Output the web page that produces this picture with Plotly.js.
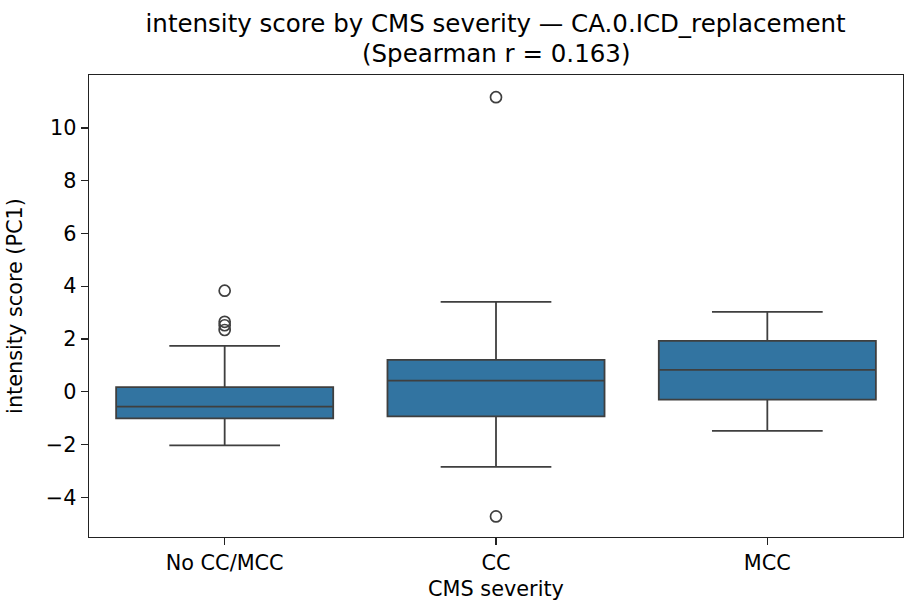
<!DOCTYPE html>
<html>
<head>
<meta charset="utf-8">
<script src="https://cdn.plot.ly/plotly-3.0.1.min.js"></script>
<style>html,body{margin:0;padding:0;background:#fff;}#chart{width:917px;height:615px;}</style>
</head>
<body>
<div id="chart"></div>
<script>
// Categories and box statistics
const categories = ["No CC/MCC", "CC", "MCC"];
const q1Values = [-1.01, -0.93, -0.30];
const medianValues = [-0.56, 0.42, 0.83];
const q3Values = [0.18, 1.21, 1.93];
const lowerWhisker = [-2.03, -2.84, -1.48];
const upperWhisker = [1.74, 3.41, 3.03];
// Outliers
const outlierCategory = ["No CC/MCC", "No CC/MCC", "No CC/MCC", "No CC/MCC", "CC", "CC"];
const outlierValues = [3.83, 2.65, 2.52, 2.34, 11.16, -4.72];
const yTicks = [-4, -2, 0, 2, 4, 6, 8, 10];
const titleLine1 = "intensity score by CMS severity — CA.0.ICD_replacement";
const titleLine2 = "(Spearman r = 0.163)";

const font = "DejaVu Sans, sans-serif";
const lineColor = "#3f3f3f";

const traces = [
  {
    type: "box",
    x: categories,
    q1: q1Values,
    median: medianValues,
    q3: q3Values,
    lowerfence: lowerWhisker,
    upperfence: upperWhisker,
    width: 0.8,
    whiskerwidth: 0.51,
    fillcolor: "#3274a1",
    line: {color: lineColor, width: 1.8},
    boxpoints: false,
    hoverinfo: "skip",
    showlegend: false
  },
  {
    type: "scatter",
    mode: "markers",
    x: outlierCategory,
    y: outlierValues,
    marker: {symbol: "circle-open", size: 11, color: lineColor, line: {color: lineColor, width: 1.7}},
    hoverinfo: "skip",
    showlegend: false
  }
];

const layout = {
  width: 917,
  height: 615,
  margin: {l: 89, r: 14, t: 75, b: 78},
  paper_bgcolor: "#ffffff",
  plot_bgcolor: "#ffffff",
  font: {family: font, color: "#000000", size: 20.8},
  title: {
    text: titleLine1,
    font: {family: font, size: 24.5, color: "#000000"},
    x: 0.5405,
    xanchor: "center",
    y: 0.976,
    yanchor: "top",
    yref: "container"
  },
  annotations: [
    {
      text: titleLine2,
      xref: "paper",
      yref: "paper",
      x: 0.5,
      y: 1.0115,
      xanchor: "center",
      yanchor: "bottom",
      showarrow: false,
      font: {family: font, size: 24.5, color: "#000000"}
    }
  ],
  xaxis: {
    type: "category",
    categoryorder: "array",
    categoryarray: categories,
    range: [-0.5, 2.5],
    showgrid: false,
    zeroline: false,
    showline: true,
    mirror: true,
    linecolor: "#222222",
    linewidth: 1.4,
    ticks: "outside",
    ticklen: 7,
    tickwidth: 1.4,
    tickcolor: "#222222",
    tickfont: {family: font, size: 20.8, color: "#000000"},
    title: {text: "CMS severity", font: {family: font, size: 20.8, color: "#000000"}, standoff: 7},
    automargin: false
  },
  yaxis: {
    range: [-5.5, 12.0],
    tickvals: yTicks,
    showgrid: false,
    zeroline: false,
    showline: true,
    mirror: true,
    linecolor: "#222222",
    linewidth: 1.4,
    ticks: "outside",
    ticklen: 7,
    tickwidth: 1.4,
    tickcolor: "#222222",
    tickfont: {family: font, size: 20.8, color: "#000000"},
    title: {text: "intensity score (PC1)", font: {family: font, size: 20.8, color: "#000000"}, standoff: 17},
    automargin: false
  }
};

Plotly.newPlot("chart", traces, layout, {staticPlot: true, displayModeBar: false});
</script>
</body>
</html>
